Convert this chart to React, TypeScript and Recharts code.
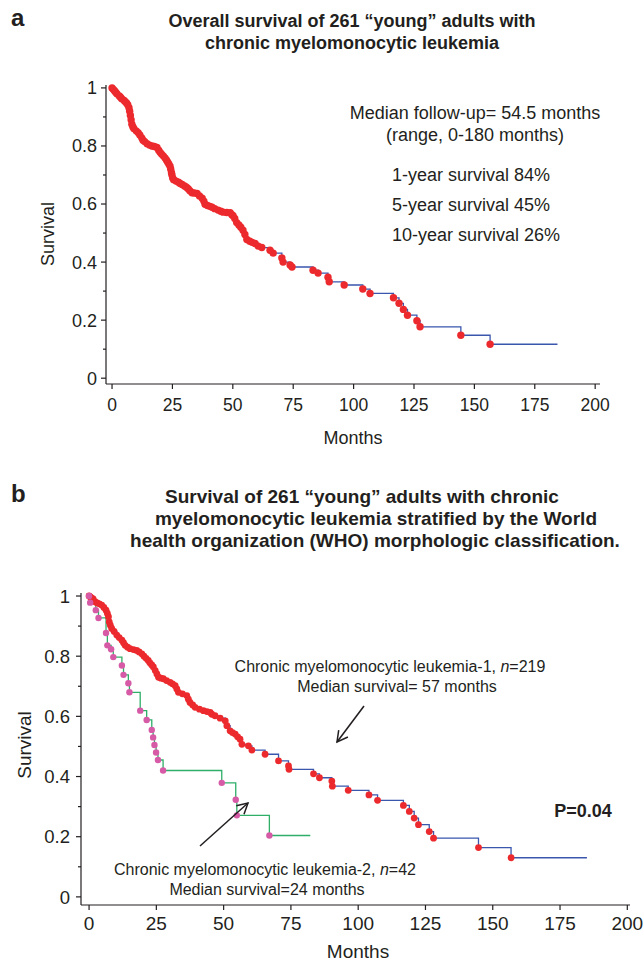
import React from 'react';
import { ComposedChart, Line, XAxis, YAxis } from 'recharts';

// ---------- data ----------
const monthTicks = [0, 25, 50, 75, 100, 125, 150, 175, 200];
const survTicks = [0, 0.1, 0.2, 0.3, 0.4, 0.5, 0.6, 0.7, 0.8, 0.9, 1];

// Panel a: overall survival (n=261)
const overallMonths = [
  0, 0.5, 1, 1.5, 2, 3, 3.5, 4, 5, 5.5, 6, 6.5, 7, 7.3, 7.6, 7.9, 8.2, 8.6, 9, 10,
  10.8, 11.5, 12.3, 12.8, 13.5, 14.5, 15.5, 16.5, 17.5, 18.6, 19.3, 19.9, 20.5, 21.2,
  21.9, 22.5, 23, 23.5, 24, 24.3, 24.6, 24.8, 25.1, 25.5, 26.5, 27.5, 28.2, 29, 30,
  30.8, 31.5, 32.2, 33.1, 34, 35.2, 36.2, 37.3, 38, 38.5, 39.5, 40.5, 41.4, 42.5, 43.9,
  45, 46, 47.5, 48.9, 49.6, 50.1, 50.8, 51.6, 52.5, 53.3, 54.2, 55, 55.8, 57, 58, 59.2,
  60.5, 62, 65.4, 66.7, 70.3, 70.8, 73.7, 74.5, 83.2, 85.3, 89.4, 89.9, 96.1, 103.8,
  106.8, 116.5, 118.8, 120.6, 122.3, 126.2, 127.5, 144.4, 156.5, 184.4,
];
const overallSurv = [
  1.0, 0.995, 0.99, 0.985, 0.98, 0.972, 0.968, 0.963, 0.957, 0.952, 0.948, 0.942, 0.932,
  0.92, 0.905, 0.89, 0.875, 0.866, 0.86, 0.852, 0.846, 0.838, 0.828, 0.82, 0.815, 0.808,
  0.803, 0.8, 0.798, 0.795, 0.785, 0.778, 0.772, 0.766, 0.759, 0.752, 0.745, 0.738, 0.73,
  0.72, 0.708, 0.7, 0.69, 0.684, 0.679, 0.675, 0.671, 0.667, 0.662, 0.658, 0.653, 0.646,
  0.639, 0.638, 0.636, 0.628, 0.62, 0.61, 0.599, 0.595, 0.592, 0.589, 0.584, 0.579, 0.575,
  0.572, 0.571, 0.57, 0.563, 0.56, 0.55, 0.536, 0.528, 0.52, 0.51, 0.495, 0.478, 0.472,
  0.468, 0.464, 0.455, 0.45, 0.441, 0.431, 0.414, 0.4, 0.39, 0.383, 0.372, 0.362, 0.348,
  0.332, 0.321, 0.307, 0.292, 0.277, 0.258, 0.237, 0.217, 0.198, 0.177, 0.148, 0.117, 0.117,
];

// Panel b: CMML-1 (n=219)
const cmml1Months = [
  0, 0.5, 1, 1.5, 2.2, 3, 3.8, 4.7, 5.5, 6.3, 6.8, 7.2, 7.5, 7.9, 8.4, 9.3, 10.3, 11.2,
  12.2, 12.8, 13.4, 14.3, 15.2, 16.5, 17.7, 18.6, 19.6, 20.4, 21.2, 22, 22.6, 23.3, 23.9,
  24.6, 25.2, 25.8, 26.7, 27.6, 28.8, 30.1, 31, 32, 32.6, 33.2, 34.7, 36.3, 36.9, 37.5,
  38.5, 39.4, 41, 42.5, 43.8, 45, 45.6, 46.8, 48.7, 50.6, 51.2, 52.4, 53.3, 54.3, 55.2,
  56.1, 56.8, 59.2, 60.5, 65.4, 70.4, 74.1, 74.3, 83.4, 85.6, 90.2, 90.4, 96.3, 104,
  107.2, 116.8, 119, 120.8, 122.4, 126.4, 128, 144.7, 156.8, 185,
];
const cmml1Surv = [
  1.0, 0.997, 0.993, 0.99, 0.981, 0.977, 0.974, 0.97, 0.962, 0.953, 0.942, 0.931, 0.914,
  0.903, 0.892, 0.882, 0.87, 0.862, 0.853, 0.845, 0.836, 0.83, 0.825, 0.822, 0.819, 0.814,
  0.808, 0.8, 0.793, 0.786, 0.778, 0.771, 0.764, 0.752, 0.741, 0.73, 0.727, 0.725, 0.719,
  0.713, 0.708, 0.702, 0.691, 0.68, 0.675, 0.669, 0.657, 0.646, 0.638, 0.63, 0.624, 0.619,
  0.616, 0.613, 0.607, 0.602, 0.594, 0.585, 0.569, 0.552, 0.546, 0.541, 0.532, 0.524,
  0.507, 0.502, 0.488, 0.474, 0.452, 0.435, 0.424, 0.409, 0.396, 0.385, 0.368, 0.354,
  0.339, 0.321, 0.304, 0.284, 0.262, 0.24, 0.217, 0.195, 0.164, 0.13, 0.13,
];

// Panel b: CMML-2 (n=42)
const cmml2Months = [
  0, 0.4, 2.5, 3.5, 6.3, 6.8, 8.2, 9, 12.2, 12.8, 14.6, 15, 19, 21.4, 23.3, 23.8, 24.3,
  24.9, 25.6, 27.5, 49.3, 54.5, 54.9, 67, 82.2,
];
const cmml2Surv = [
  1.0, 0.978, 0.953, 0.927, 0.877, 0.836, 0.823, 0.797, 0.769, 0.738, 0.71, 0.68, 0.619,
  0.588, 0.555, 0.53, 0.505, 0.48, 0.455, 0.42, 0.379, 0.323, 0.271, 0.204, 0.204,
];

// ---------- styles ----------
const FONT = '"Liberation Sans", Arial, Helvetica, sans-serif';
const INK = '#231f20';
const RED = '#ec2a2e';
const BLUE = '#3a56ad';
const PINK = '#d65aa6';
const GREEN = '#2fae68';

const toPoints = (ms: number[], ss: number[]) => ms.map((m, i) => ({ m, s: ss[i] }));
const overallData = toPoints(overallMonths, overallSurv);
const cmml1Data = toPoints(cmml1Months, cmml1Surv);
const cmml2Data = toPoints(cmml2Months, cmml2Surv);

const fmtSurv = (v: number) => (v === 0 ? '0' : v === 1 ? '1' : v.toFixed(1));

const makeXTick = (fontSize: number, dy: number) => (props: any) => {
  const { x, y, payload } = props;
  return (
    <g>
      <line x1={x} y1={y} x2={x} y2={y + 5} stroke={INK} strokeWidth={1.2} />
      <text x={x} y={y + dy} textAnchor="middle" fontSize={fontSize} fontFamily={FONT} fill={INK}>
        {payload.value}
      </text>
    </g>
  );
};

const makeYTick = (fontSize: number, gap: number) => (props: any) => {
  const { x, y, payload } = props;
  const v = payload.value as number;
  const major = Math.round(v * 10) % 2 === 0;
  return (
    <g>
      <line x1={x - (major ? 5 : 3)} y1={y} x2={x} y2={y} stroke={INK} strokeWidth={1.2} />
      {major ? (
        <text x={x - gap} y={y + fontSize * 0.36} textAnchor="end" fontSize={fontSize} fontFamily={FONT} fill={INK}>
          {fmtSurv(v)}
        </text>
      ) : null}
    </g>
  );
};

const makeDot = (color: string, r: number, lastIndex: number) => (props: any) => {
  const { cx, cy, index } = props;
  if (index >= lastIndex || cx == null || cy == null) return <g key={`d-${index}`} />;
  return <circle key={`d-${index}`} cx={cx} cy={cy} r={r} fill={color} stroke="none" />;
};

const Arrow = ({ x1, y1, x2, y2 }: { x1: number; y1: number; x2: number; y2: number }) => {
  const a = Math.atan2(y2 - y1, x2 - x1);
  const L = 12;
  const s = 0.5;
  const p1 = [x2 - L * Math.cos(a - s), y2 - L * Math.sin(a - s)];
  const p2 = [x2 - L * Math.cos(a + s), y2 - L * Math.sin(a + s)];
  return (
    <g stroke={INK} strokeWidth={1.5} fill="none">
      <line x1={x1} y1={y1} x2={x2} y2={y2} />
      <polyline points={`${p1[0]},${p1[1]} ${x2},${y2} ${p2[0]},${p2[1]}`} />
    </g>
  );
};

export default function App() {
  return (
    <div style={{ position: 'absolute', left: 0, top: 0, width: 643, height: 963, background: '#fff' }}>
      {/* Panel a */}
      <div style={{ position: 'absolute', left: 0, top: 0 }}>
        <ComposedChart width={643} height={420} margin={{ top: 85, right: 43, bottom: 6, left: 46 }}>
          <XAxis
            type="number"
            dataKey="m"
            domain={[-2.5, 202]}
            ticks={monthTicks}
            interval={0}
            tickSize={0}
            tickMargin={0}
            height={30}
            axisLine={{ stroke: INK, strokeWidth: 1.2 }}
            tickLine={false}
            tick={makeXTick(17.5, 27)}
          />
          <YAxis
            type="number"
            dataKey="s"
            domain={[-0.02, 1.01]}
            ticks={survTicks}
            interval={0}
            tickSize={0}
            tickMargin={0}
            width={60}
            axisLine={{ stroke: INK, strokeWidth: 1.2 }}
            tickLine={false}
            tick={makeYTick(18, 9)}
          />
          <Line
            data={overallData}
            dataKey="s"
            type="stepAfter"
            stroke={BLUE}
            strokeWidth={1.3}
            dot={makeDot(RED, 3.7, overallData.length - 1)}
            activeDot={false}
            isAnimationActive={false}
          />
        </ComposedChart>
      </div>

      {/* Panel b */}
      <div style={{ position: 'absolute', left: 0, top: 470 }}>
        <ComposedChart width={643} height={493} margin={{ top: 123, right: 13, bottom: 28, left: 21 }}>
          <XAxis
            type="number"
            dataKey="m"
            domain={[-3, 201]}
            ticks={monthTicks}
            interval={0}
            tickSize={0}
            tickMargin={0}
            height={30}
            axisLine={{ stroke: INK, strokeWidth: 1.2 }}
            tickLine={false}
            tick={makeXTick(19, 25)}
          />
          <YAxis
            type="number"
            dataKey="s"
            domain={[-0.027, 1.01]}
            ticks={survTicks}
            interval={0}
            tickSize={0}
            tickMargin={0}
            width={60}
            axisLine={{ stroke: INK, strokeWidth: 1.2 }}
            tickLine={false}
            tick={makeYTick(18.5, 11)}
          />
          <Line
            data={cmml1Data}
            dataKey="s"
            type="stepAfter"
            stroke={BLUE}
            strokeWidth={1.3}
            dot={makeDot(RED, 3.4, cmml1Data.length - 1)}
            activeDot={false}
            isAnimationActive={false}
          />
          <Line
            data={cmml2Data}
            dataKey="s"
            type="stepAfter"
            stroke={GREEN}
            strokeWidth={1.3}
            dot={makeDot(PINK, 3.2, cmml2Data.length - 1)}
            activeDot={false}
            isAnimationActive={false}
          />
        </ComposedChart>
      </div>

      {/* Text overlay */}
      <svg
        width={643}
        height={963}
        style={{ position: 'absolute', left: 0, top: 0, pointerEvents: 'none' }}
        fontFamily={FONT}
        fill={INK}
      >
        {/* panel a */}
        <text x={11} y={26} fontSize={24} fontWeight="bold">a</text>
        <text x={352} y={27} fontSize={18} fontWeight="bold" textAnchor="middle">
          Overall survival of 261 “young” adults with
        </text>
        <text x={352} y={49} fontSize={18} fontWeight="bold" textAnchor="middle">
          chronic myelomonocytic leukemia
        </text>
        <text x={475} y={119} fontSize={18} textAnchor="middle">Median follow-up= 54.5 months</text>
        <text x={475} y={141} fontSize={18} textAnchor="middle">(range, 0-180 months)</text>
        <text x={392} y={181} fontSize={18}>1-year survival 84%</text>
        <text x={392} y={211} fontSize={18}>5-year survival 45%</text>
        <text x={392} y={241} fontSize={18}>10-year survival 26%</text>
        <text transform="translate(54,234) rotate(-90)" fontSize={18} textAnchor="middle">Survival</text>
        <text x={353} y={444} fontSize={18} textAnchor="middle">Months</text>

        {/* panel b */}
        <text x={11} y={502} fontSize={24} fontWeight="bold">b</text>
        <text x={362} y={503} fontSize={19} fontWeight="bold" textAnchor="middle">
          Survival of 261 “young” adults with chronic
        </text>
        <text x={376} y={525} fontSize={19} fontWeight="bold" textAnchor="middle">
          myelomonocytic leukemia stratified by the World
        </text>
        <text x={375} y={547} fontSize={19} fontWeight="bold" textAnchor="middle">
          health organization (WHO) morphologic classification.
        </text>
        <text x={390} y={672} fontSize={16} textAnchor="middle">
          Chronic myelomonocytic leukemia-1, <tspan fontStyle="italic">n</tspan>=219
        </text>
        <text x={397} y={692} fontSize={16} textAnchor="middle">Median survival= 57 months</text>
        <Arrow x1={364} y1={706} x2={337} y2={742} />
        <text x={265} y={875} fontSize={16} textAnchor="middle">
          Chronic myelomonocytic leukemia-2, <tspan fontStyle="italic">n</tspan>=42
        </text>
        <text x={267} y={895} fontSize={16} textAnchor="middle">Median survival=24 months</text>
        <Arrow x1={200} y1={846} x2={248} y2={803} />
        <text x={583} y={817} fontSize={18} fontWeight="bold" textAnchor="middle">P=0.04</text>
        <text transform="translate(31,745) rotate(-90)" fontSize={19} textAnchor="middle">Survival</text>
        <text x={358} y={958} fontSize={19} textAnchor="middle">Months</text>
      </svg>
    </div>
  );
}
